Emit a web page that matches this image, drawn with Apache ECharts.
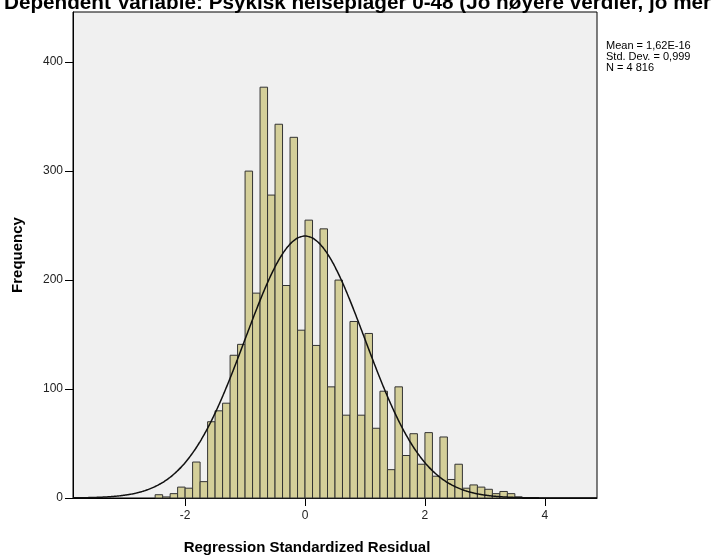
<!DOCTYPE html>
<html>
<head>
<meta charset="utf-8">
<script src="https://cdn.jsdelivr.net/npm/echarts@6/dist/echarts.min.js"></script>
<style>
html, body { margin: 0; padding: 0; background: #fff; }
#main { width: 715px; height: 559px; }
</style>
</head>
<body>
<div id="main"></div>
<script>
// histogram bins (lower edge) and frequencies
var binLow = [-2.5, -2.375, -2.25, -2.125, -2, -1.875, -1.75, -1.625, -1.5, -1.375,
  -1.25, -1.125, -1, -0.875, -0.75, -0.625, -0.5, -0.375, -0.25, -0.125,
  0, 0.125, 0.25, 0.375, 0.5, 0.625, 0.75, 0.875, 1, 1.125,
  1.25, 1.375, 1.5, 1.625, 1.75, 1.875, 2, 2.125, 2.25, 2.375,
  2.5, 2.625, 2.75, 2.875, 3, 3.125, 3.25, 3.375, 3.5];
var counts = [3, 1, 4, 10, 9, 33, 15, 70, 80, 87,
  131, 141, 300, 188, 377, 278, 343, 195, 331, 154,
  255, 140, 247, 102, 200, 76, 162, 76, 151, 64,
  98, 26, 102, 39, 59, 31, 60, 20, 56, 17,
  31, 9, 12, 10, 8, 4, 6, 4, 1];
var binWidth = 0.125;

var xTicks = [-2, 0, 2, 4];
var yTicks = [0, 100, 200, 300, 400];
var xMin = -3.87, xMax = 4.87, yMax = 446;

// fitted normal curve parameters (from the stats box)
var mean = 1.62e-16, sd = 0.999, n = 4816;
var statsLines = ['Mean = 1,62E-16', 'Std. Dev. = 0,999', 'N = 4 816'];

var titleText = 'Dependent Variable: Psykisk helseplager 0-48 (Jo høyere verdier, jo mer';
var xName = 'Regression Standardized Residual';
var yName = 'Frequency';

var font = 'Arial, "Liberation Sans", sans-serif';

var bins = binLow.map(function (lo, i) { return [lo, lo + binWidth, counts[i]]; });

var curve = [];
for (var x = xMin; x <= xMax + 1e-9; x += 0.02) {
  var z = (x - mean) / sd;
  curve.push([x, n * binWidth * Math.exp(-0.5 * z * z) / (sd * Math.sqrt(2 * Math.PI))]);
}

var chart = echarts.init(document.getElementById('main'));
chart.setOption({
  animation: false,
  backgroundColor: '#fff',
  grid: {
    left: 73, right: 118, top: 12, bottom: 61,
    show: true, backgroundColor: '#f0f0f0', borderColor: '#000', borderWidth: 1
  },
  xAxis: {
    type: 'value', min: xMin, max: xMax,
    axisLine: { show: true, onZero: false, lineStyle: { color: '#000', width: 1 } },
    axisTick: { show: true, length: 8, customValues: xTicks, lineStyle: { color: '#000' } },
    axisLabel: { customValues: xTicks, color: '#222', fontSize: 12, fontFamily: font, margin: 12 },
    splitLine: { show: false }
  },
  yAxis: {
    type: 'value', min: 0, max: yMax,
    axisLine: { show: true, onZero: false, lineStyle: { color: '#000', width: 1 } },
    axisTick: { show: true, length: 8, customValues: yTicks, lineStyle: { color: '#000' } },
    axisLabel: { customValues: yTicks, color: '#222', fontSize: 12, fontFamily: font, margin: 10 },
    splitLine: { show: false }
  },
  graphic: [
    {
      type: 'text', left: 4, top: -7,
      style: { text: titleText, font: 'bold 20.7px ' + font, fill: '#000' }
    },
    {
      type: 'text', left: 606, top: 40,
      style: { text: statsLines.join('\n'), font: '11px ' + font, lineHeight: 11, fill: '#000' }
    },
    {
      type: 'text', x: 307, y: 548,
      style: { text: xName, font: 'bold 15px ' + font, fill: '#000', align: 'center', verticalAlign: 'middle' }
    },
    {
      type: 'text', x: 18, y: 255, rotation: Math.PI / 2,
      style: { text: yName, font: 'bold 15px ' + font, fill: '#000', align: 'center', verticalAlign: 'middle' }
    }
  ],
  series: [
    {
      type: 'custom',
      data: bins,
      encode: { x: [0, 1], y: 2 },
      renderItem: function (params, api) {
        var p0 = api.coord([api.value(0), api.value(2)]);
        var p1 = api.coord([api.value(1), 0]);
        return {
          type: 'rect',
          shape: { x: p0[0], y: p0[1], width: p1[0] - p0[0], height: p1[1] - p0[1] },
          style: { fill: '#d4cf99', stroke: '#333', lineWidth: 1 }
        };
      }
    },
    {
      type: 'line',
      data: curve,
      showSymbol: false,
      smooth: true,
      lineStyle: { color: '#111', width: 1.5 },
      z: 5
    }
  ]
});
</script>
</body>
</html>
